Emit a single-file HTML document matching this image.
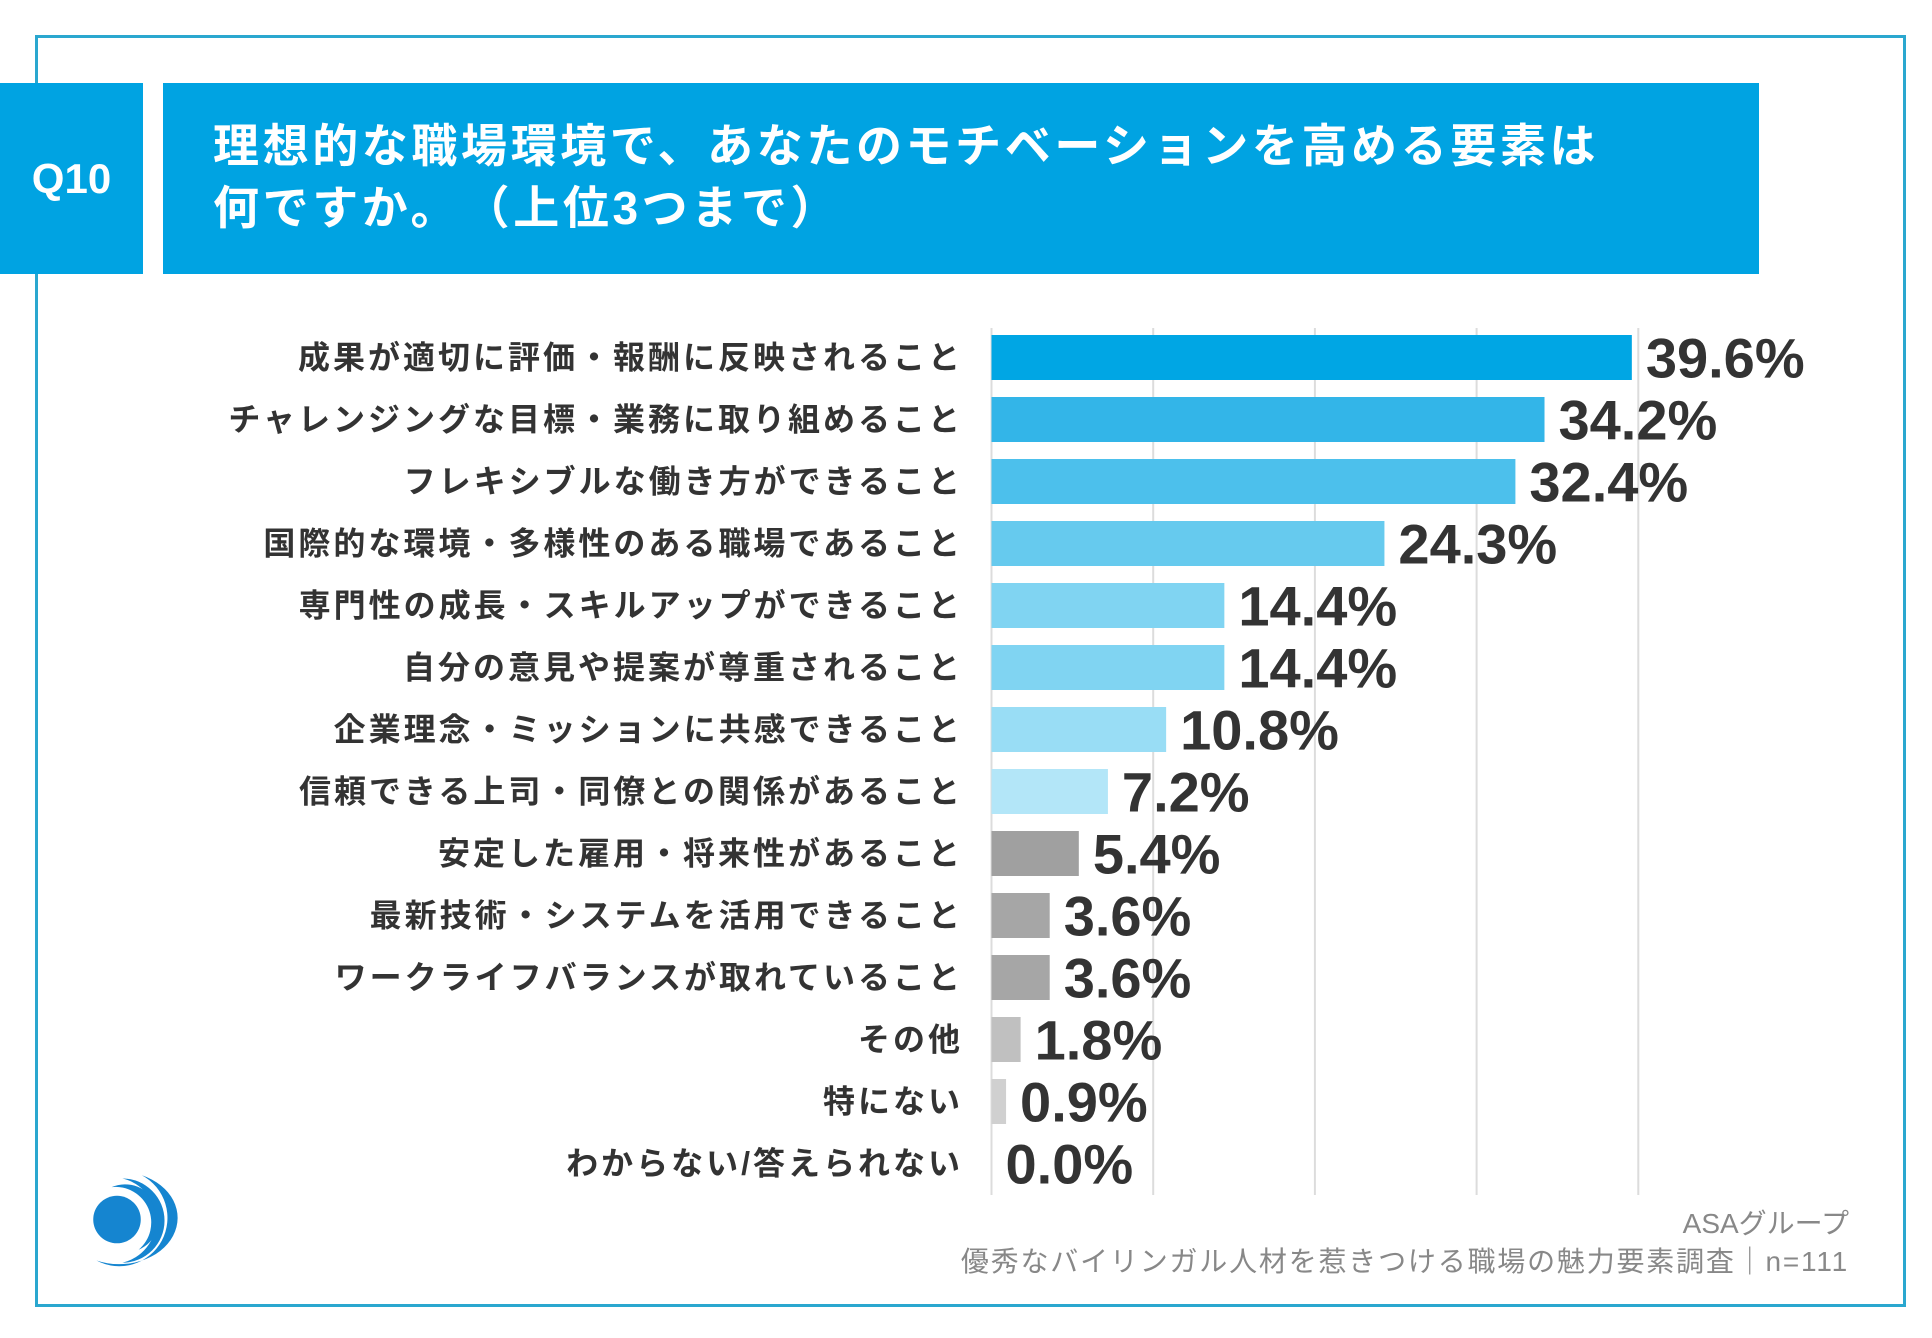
<!DOCTYPE html>
<html lang="ja"><head><meta charset="utf-8">
<style>
body{margin:0;width:1932px;height:1338px;background:#fff;overflow:hidden;position:relative;font-family:"Liberation Sans","Noto Sans CJK JP",sans-serif;}
.abs{position:absolute;}
#frame{left:35px;top:35px;width:1871px;height:1272px;border:3px solid #2aa7cf;box-sizing:border-box;}
#qbox{left:0;top:83px;width:143px;height:191px;background:#00a3e2;color:#fff;font-weight:bold;font-size:42px;display:flex;align-items:center;justify-content:center;}
#tbox{left:163px;top:83px;width:1596px;height:191px;background:#00a3e2;}
.tl{color:#fff;font-weight:bold;font-size:46px;left:213px;white-space:nowrap;line-height:1;letter-spacing:3.6px;}
.foot{right:83px;color:#888;font-size:28px;white-space:nowrap;}
</style></head><body>
<div id="frame" class="abs"></div>
<div id="qbox" class="abs">Q10</div>
<div id="tbox" class="abs"></div>
<div class="abs tl" style="top:123px">理想的な職場環境で、あなたのモチベーションを高める要素は</div>
<div class="abs tl" style="top:185px">何ですか。　（上位3つまで）</div>
<svg class="abs" style="left:0;top:0" width="1932" height="1338" id="chart"></svg>
<div class="abs foot" style="top:1202px">ASAグループ</div>
<div class="abs foot" style="top:1240px;letter-spacing:1.8px">優秀なバイリンガル人材を惹きつける職場の魅力要素調査｜n=111</div>
<svg class="abs" style="left:90px;top:1172px" width="100" height="100">
<g transform="scale(1.08)">
<circle cx="25" cy="44" r="22" fill="#1585d0"/>
<path d="M20 14 A33 33 0 0 1 45 72 A30 30 0 0 0 20 14Z" fill="#1585d0"/>
<path d="M30 6 A40 40 0 0 1 30 84 A36 36 0 0 0 30 6Z" fill="#1585d0"/>
<path d="M48 3 A44 44 0 0 1 6 82 A48 38 0 0 0 48 3Z" fill="#1585d0"/>
</g>
</svg>
<script>
const categories=["成果が適切に評価・報酬に反映されること","チャレンジングな目標・業務に取り組めること","フレキシブルな働き方ができること","国際的な環境・多様性のある職場であること","専門性の成長・スキルアップができること","自分の意見や提案が尊重されること","企業理念・ミッションに共感できること","信頼できる上司・同僚との関係があること","安定した雇用・将来性があること","最新技術・システムを活用できること","ワークライフバランスが取れていること","その他","特にない","わからない/答えられない"];
const values=[39.6,34.2,32.4,24.3,14.4,14.4,10.8,7.2,5.4,3.6,3.6,1.8,0.9,0.0];
const barColors=["#00a6e4","#33b5e8","#4cc0ec","#66caee","#80d4f2","#80d4f2","#99ddf5","#b3e6f8","#a0a0a0","#a6a6a6","#a6a6a6","#c0c0c0","#d0d0d0","#d0d0d0"];
const gridTicks=[10,20,30,40];
const NS="http://www.w3.org/2000/svg";
const svg=document.getElementById('chart');
const x0=991.5,pxPer=16.17,y0=357.5,pitch=62,bh=45;
const xs=v=>x0+v*pxPer, yc=i=>y0+i*pitch;
function mk(t,a){const e=document.createElementNS(NS,t);for(const k in a)e.setAttribute(k,a[k]);svg.appendChild(e);return e;}
const ax=mk('line',{x1:xs(0),x2:xs(0),y1:328,y2:1195,stroke:'#dcdcdc','stroke-width':2});


gridTicks.forEach(t=>{const g=mk('line',{x1:xs(t),x2:xs(t),y1:328,y2:1195,stroke:'#dcdcdc','stroke-width':2});

});
categories.forEach((c,i)=>{
 const r=mk('rect',{x:xs(0),y:yc(i)-bh/2,width:Math.max(0,xs(values[i])-xs(0)),height:bh,fill:barColors[i]});
 
 
 const l=mk('text',{x:963,y:yc(i)+11,'text-anchor':'end','font-size':32,'font-weight':'bold',fill:'#333','letter-spacing':3,'font-family':'"Liberation Sans","Noto Sans CJK JP",sans-serif'});
 l.textContent=c;
 
 
 const v=mk('text',{x:xs(values[i])+14,y:yc(i)+20,'font-size':56,'font-weight':'bold',fill:'#333','font-family':'"Liberation Sans Narrow","Liberation Sans",sans-serif'});
 v.textContent=values[i].toFixed(1)+'%';
 
 
});
</script>
</body></html>
